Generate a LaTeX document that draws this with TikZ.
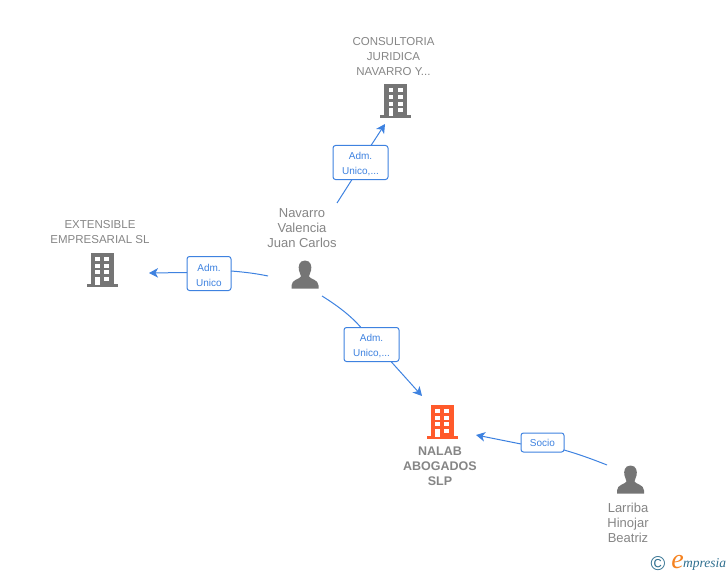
\documentclass[tikz,border=0pt]{standalone}
\usepackage{fontspec}
\setmainfont{Liberation Sans}
\newfontfamily\logofont{Liberation Serif}
\usetikzlibrary{arrows.meta}
\definecolor{linkblue}{HTML}{3E82E0}
\definecolor{icongray}{HTML}{757575}
\definecolor{textgray}{HTML}{858585}
\definecolor{nalaborange}{HTML}{FF5A2B}
\definecolor{logoteal}{HTML}{2F6F8F}
\definecolor{logoorange}{HTML}{F58220}
\tikzset{
  x=1pt,y=-1pt,
  every node/.style={inner sep=0pt,outer sep=0pt},
  building/.pic={
    \fill[pic actions] (-11.5,-33.5) rectangle (11.5,-3);
    \fill[pic actions] (-15.5,-3) rectangle (15.5,0);
    \foreach \yy in {-29.7,-23,-16.3}{
      \fill[white] (-7,\yy) rectangle (-2.5,\yy+4);
      \fill[white] (2.3,\yy) rectangle (7,\yy+4);
    }
    \fill[white] (2.3,-9.7) rectangle (7,-5.7);
    \fill[white] (-7,-9.7) rectangle (-2.5,-2);
  },
  person/.pic={
    \fill[pic actions] (0,-28) .. controls (-6,-28) and (-7,-22) .. (-6,-18)
      .. controls (-5.5,-15) and (-4,-14) .. (-4,-12)
      .. controls (-5,-9.5) and (-13.5,-9) .. (-13.5,-3) -- (-13.5,0) -- (13.5,0) -- (13.5,-3)
      .. controls (13.5,-9) and (5,-9.5) .. (4,-12)
      .. controls (4,-14) and (5.5,-15) .. (6,-18)
      .. controls (7,-22) and (6,-28) .. (0,-28) -- cycle;
  },
  namelabel/.style={align=center,text=textgray,font=\fontsize{13}{15}\selectfont},
  orglabel/.style={align=center,text=textgray,font=\fontsize{11.5}{15}\selectfont},
  mainlabel/.style={align=center,text=textgray,font=\fontsize{12.5}{15}\selectfont\bfseries},
  rolebox/.style={draw=linkblue,fill=white,line width=1pt,rounded corners=2.5pt,align=center,text=linkblue,font=\fontsize{10}{15}\selectfont},
  link/.style={draw=linkblue,line width=1pt},
  linkarrow/.style={link,-{Stealth[length=9pt,width=9.5pt,inset=2.5pt]}},
}
\newcommand{\lowerline}{\rule{0pt}{10.5pt}}
\begin{document}
\begin{tikzpicture}
\useasboundingbox (0,0) rectangle (728,575);
% icons
\pic[icongray] at (395.5,118) {building};
\pic[icongray] at (102,286.5) {building};
\pic[nalaborange] at (442,438.5) {building};
\pic[icongray] at (305,288.5) {person};
\pic[icongray] at (630.5,493.5) {person};
% texts
\node[orglabel] (consult) at (393.5,56.3) {CONSULTORIA\\JURIDICA\\NAVARRO Y...};
\node[orglabel] (extens) at (100,231.7) {EXTENSIBLE\\EMPRESARIAL SL};
\node[namelabel] (navarro) at (302,228) {Navarro\\Valencia\\Juan Carlos};
\node[mainlabel] (nalab) at (440,466.5) {NALAB\\ABOGADOS\\SLP};
\node[namelabel] (larriba) at (628,523) {Larriba\\Hinojar\\Beatriz};
% role labels
\node[rolebox,minimum width=55pt,minimum height=34pt] (r1) at (360.5,162.5) {\lowerline Adm.\\Unico,...};
\node[rolebox,minimum width=44pt,minimum height=34pt] (r2) at (209,273.5) {\lowerline Adm.\\Unico};
\node[rolebox,minimum width=55pt,minimum height=34pt] (r3) at (371.5,344.5) {\lowerline Adm.\\Unico,...};
\node[rolebox,minimum width=43pt,minimum height=19pt] (r4) at (542.5,442.5) {Socio};
% connector ends
\coordinate (a1) at (337,203);
\coordinate (b1) at (385,124);
\coordinate (a2) at (268,276);
\coordinate (b2) at (149,273);
\coordinate (a3) at (322,296);
\coordinate (b3) at (422,396);
\coordinate (a4) at (607,465);
\coordinate (b4) at (476,435);
% connectors
\draw[link] (a1) -- (r1.south -| 352,180);
\draw[linkarrow] (r1.north -| 371,145) -- (b1);
\draw[link] (a2) .. controls (256,273.5) and (244,272) .. (r2.east |- 0,271);
\draw[linkarrow] (r2.west |- 0,272.5) -- (b2);
\draw[link] (a3) .. controls (338,306) and (351,316) .. (r3.north -| 361,327);
\draw[linkarrow] (r3.south -| 391,362) -- (b3);
\draw[link] (a4) .. controls (592,459) and (578,454) .. (r4.south east |- 0,450);
\draw[linkarrow] (r4.west |- 0,444) -- (b4);
% logo
\node[text=logoteal,font=\fontsize{20}{20}\selectfont] (copy) at (658,563.5) {©};
\node[text=logoorange,font=\logofont\itshape\fontsize{28}{28}\selectfont] (elogo) at (677.5,562) {e};
\node[text=logoteal,font=\logofont\itshape\fontsize{13.5}{14}\selectfont,anchor=west] (mpresia) at (683,564.5) {mpresia};
\end{tikzpicture}
\end{document}
